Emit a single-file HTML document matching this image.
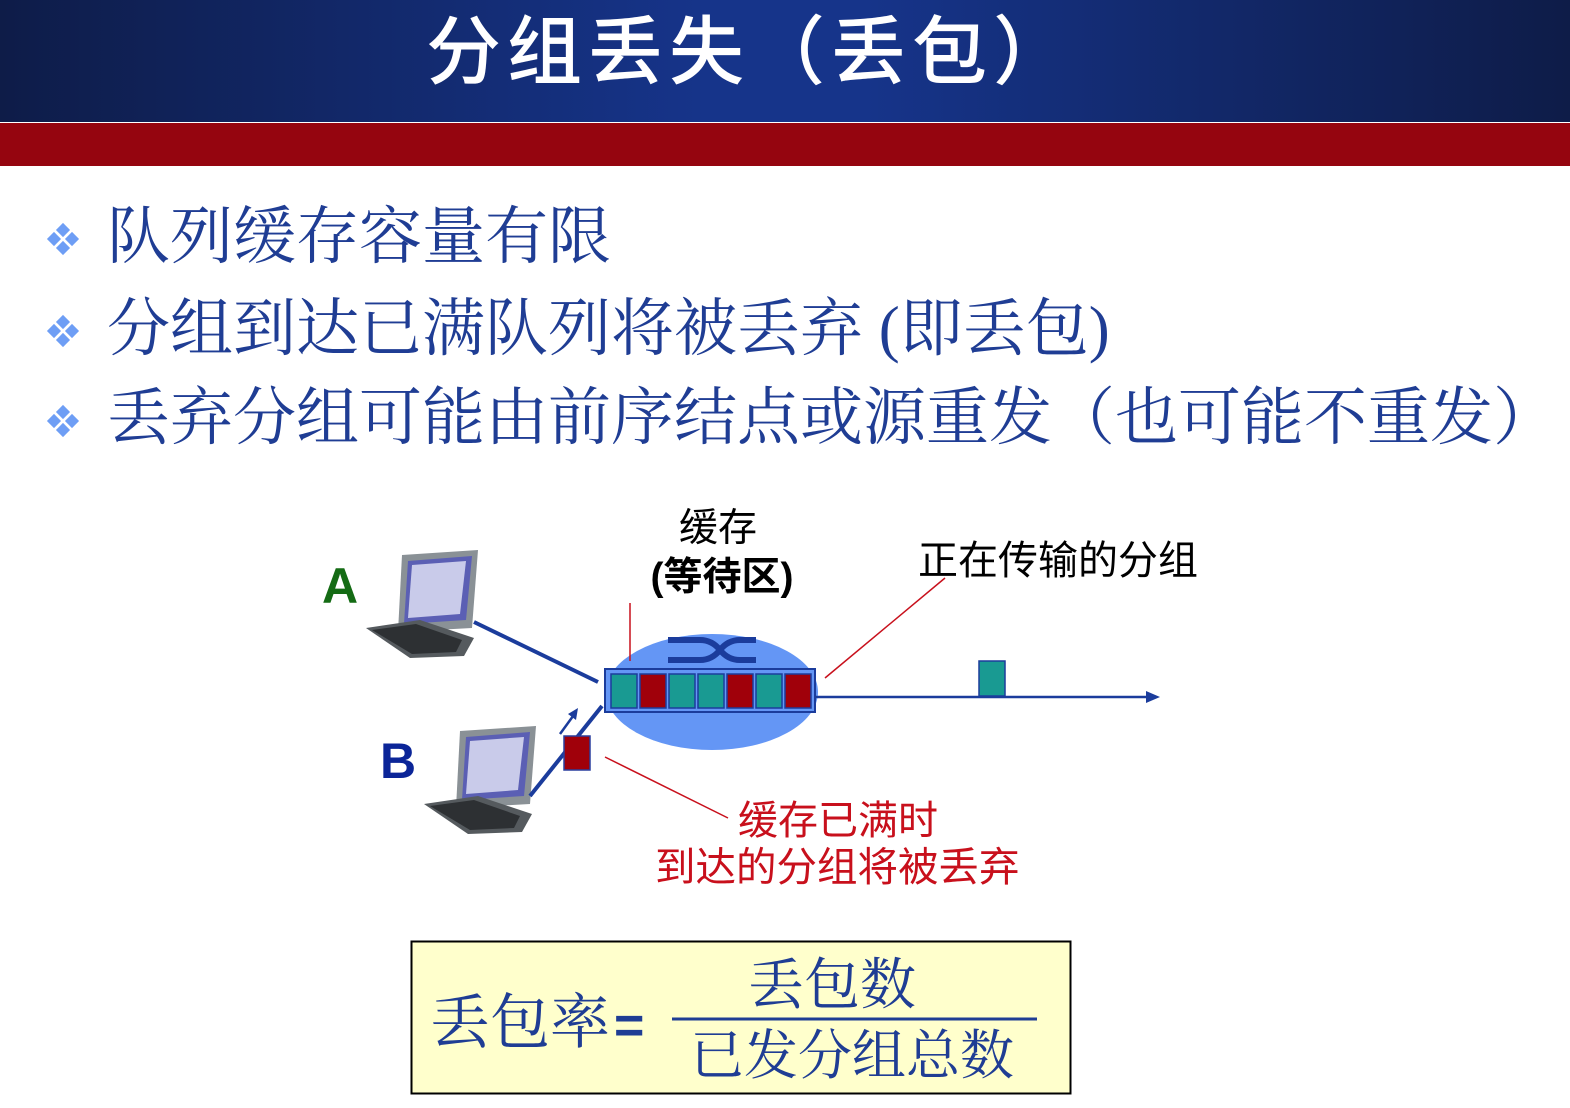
<!DOCTYPE html>
<html><head><meta charset="utf-8"><style>
body{margin:0;width:1570px;height:1108px;background:#fff;overflow:hidden;position:relative;font-family:"Liberation Sans","Noto Sans CJK SC",sans-serif}
.hdr{position:absolute;left:0;top:0;width:1570px;height:122px;background:linear-gradient(90deg,#0e1c48 0%,#16348a 45%,#16348a 55%,#0e1c48 100%)}
.red{position:absolute;left:0;top:123px;width:1570px;height:43px;background:#95050f}
.title{position:absolute;left:0;width:1500px;top:6px;text-align:center;color:#fff;font-size:75px;font-family:"Liberation Sans","Noto Sans CJK SC",sans-serif;font-weight:500;line-height:92px;letter-spacing:6px}
.b{position:absolute;left:107px;color:#1f3d94;font-size:63px;font-family:"Liberation Serif","Noto Serif CJK SC",serif;white-space:nowrap;line-height:70px}
.d{position:absolute;left:46px;width:34px;height:34px}
</style></head><body>
<div class="hdr"></div><div class="red"></div>
<div class="title">分组丢失（丢包）</div>
<svg class="d" style="top:222px" viewBox="0 0 34 34"><g fill="#6e9ef5"><rect x="12" y="3" width="10" height="10" transform="rotate(45 17 8)"/><rect x="3" y="12" width="10" height="10" transform="rotate(45 8 17)"/><rect x="21" y="12" width="10" height="10" transform="rotate(45 26 17)"/><rect x="12" y="21" width="10" height="10" transform="rotate(45 17 26)"/></g></svg>
<svg class="d" style="top:314px" viewBox="0 0 34 34"><g fill="#6e9ef5"><rect x="12" y="3" width="10" height="10" transform="rotate(45 17 8)"/><rect x="3" y="12" width="10" height="10" transform="rotate(45 8 17)"/><rect x="21" y="12" width="10" height="10" transform="rotate(45 26 17)"/><rect x="12" y="21" width="10" height="10" transform="rotate(45 17 26)"/></g></svg>
<svg class="d" style="top:404px" viewBox="0 0 34 34"><g fill="#6e9ef5"><rect x="12" y="3" width="10" height="10" transform="rotate(45 17 8)"/><rect x="3" y="12" width="10" height="10" transform="rotate(45 8 17)"/><rect x="21" y="12" width="10" height="10" transform="rotate(45 26 17)"/><rect x="12" y="21" width="10" height="10" transform="rotate(45 17 26)"/></g></svg>
<div class="b" style="top:202px">队列缓存容量有限</div>
<div class="b" style="top:294px">分组到达已满队列将被丢弃 (即丢包)</div>
<div class="b" style="top:383px">丢弃分组可能由前序结点或源重发（也可能不重发）</div>

<svg style="position:absolute;left:0;top:0" width="1570" height="1108">
<g font-family="Liberation Sans,Noto Sans CJK SC,sans-serif">
<text x="718" y="541" font-size="39" text-anchor="middle" fill="#000">缓存</text>
<text x="722" y="590" font-size="39" text-anchor="middle" fill="#000" font-weight="bold">(等待区)</text>
<text x="918" y="574" font-size="40" fill="#000">正在传输的分组</text>
<text x="322" y="603" font-size="50" font-weight="bold" fill="#146b14">A</text>
<text x="380" y="778" font-size="50" font-weight="bold" fill="#0b2598">B</text>
<text x="738" y="834" font-size="40" fill="#c8101c">缓存已满时</text>
<text x="655" y="881" font-size="40.5" fill="#c8101c">到达的分组将被丢弃</text>
</g>
<g id="pc">
<polygon points="402,555 478,550 472,628 398,632" fill="#8a9196"/>
<polygon points="408,561 472,556 466,620 404,624" fill="#5b5fb4"/>
<polygon points="412,565 466,561 460,614 408,618" fill="#c9cbea"/>
<polygon points="366,628 420,620 474,638 464,656 410,658" fill="#555a5e"/>
<polygon points="372,630 416,624 462,640 456,652 412,654" fill="#2d3033"/>
</g>
<use href="#pc" transform="translate(58,176)"/>
<line x1="474" y1="622" x2="598" y2="682" stroke="#1b3c9c" stroke-width="4"/>
<line x1="530" y1="796" x2="602" y2="706" stroke="#1b3c9c" stroke-width="4"/>
<line x1="560" y1="734" x2="576" y2="712" stroke="#1b3c9c" stroke-width="2.5"/>
<polygon points="578,708 568,714 576,720" fill="#1b3c9c"/>
<rect x="564" y="736" width="26" height="34" fill="#a0000a" stroke="#2a3f9e" stroke-width="1.5"/>
<ellipse cx="712" cy="692" rx="106" ry="58" fill="#6496f5"/>
<path d="M668 640 H700 Q712 640 720 650 Q728 660 740 660 H756 M668 660 H700 Q712 660 720 650 Q728 640 740 640 H756" stroke="#1b3c9c" stroke-width="6" fill="none"/>
<rect x="605" y="669" width="210" height="43" fill="#6496f5" stroke="#1b3c9c" stroke-width="2"/>
<g stroke="#1b3c9c" stroke-width="1.5">
<rect x="611" y="674" width="26" height="34" fill="#199a92"/>
<rect x="640" y="674" width="26" height="34" fill="#a0000a"/>
<rect x="669" y="674" width="26" height="34" fill="#199a92"/>
<rect x="698" y="674" width="26" height="34" fill="#199a92"/>
<rect x="727" y="674" width="26" height="34" fill="#a0000a"/>
<rect x="756" y="674" width="26" height="34" fill="#199a92"/>
<rect x="785" y="674" width="26" height="34" fill="#a0000a"/>
</g>
<line x1="815" y1="697" x2="1150" y2="697" stroke="#1b3c9c" stroke-width="2.5"/>
<polygon points="1160,697 1146,691 1146,703" fill="#1b3c9c"/>
<rect x="979" y="661" width="26" height="35" fill="#199a92" stroke="#1b3c9c" stroke-width="1.5"/>
<line x1="630" y1="603" x2="630" y2="661" stroke="#c8101c" stroke-width="1.5"/>
<line x1="945" y1="578" x2="825" y2="678" stroke="#c8101c" stroke-width="1.5"/>
<line x1="605" y1="757" x2="728" y2="818" stroke="#c8101c" stroke-width="1.5"/>
<rect x="411.5" y="941.5" width="659" height="152" fill="#ffffcc" stroke="#000" stroke-width="2"/>
<g font-family="Liberation Serif,Noto Serif CJK SC,serif" fill="#1f3d94">
<text x="430" y="1043" font-size="60">丢包率</text>
<text x="614" y="1043" font-size="52" font-weight="bold" font-family="Liberation Sans,sans-serif">=</text>
<text x="832" y="1004" font-size="56" text-anchor="middle">丢包数</text>
<text x="852" y="1074" font-size="54" text-anchor="middle">已发分组总数</text>
</g>
<line x1="672" y1="1019" x2="1037" y2="1019" stroke="#1f3d94" stroke-width="3"/>
</svg>
</body></html>
